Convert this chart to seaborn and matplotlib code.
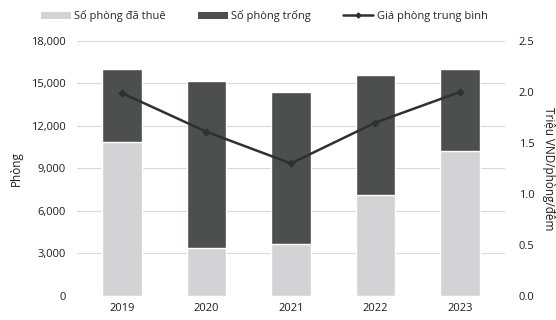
import matplotlib
matplotlib.use("Agg")
import matplotlib.pyplot as plt
from matplotlib.ticker import FuncFormatter
from matplotlib.lines import Line2D
from matplotlib.patches import Patch
import seaborn as sns
import pandas as pd

years = ["2019", "2020", "2021", "2022", "2023"]
occupied = [10900, 3400, 3700, 7100, 10200]
vacant = [5100, 11800, 10700, 8500, 5800]
avg_price = [1.99, 1.61, 1.30, 1.70, 2.00]

total = [o + v for o, v in zip(occupied, vacant)]
df = pd.DataFrame({"year": years, "occupied": occupied, "total": total, "price": avg_price})

sns.set_theme(style="white")
plt.rcParams["font.family"] = ["Open Sans", "DejaVu Sans"]

light = "#d3d3d5"
dark = "#4d4f4f"
line_c = "#303030"
txt = "#1e1e1e"

fig = plt.figure(figsize=(5.56, 3.2), dpi=100)
ax = fig.add_axes([0.1385, 0.075, 0.7695, 0.797])

sns.barplot(data=df, x="year", y="total", color=dark, width=0.47, saturation=1, ax=ax, zorder=2)
sns.barplot(data=df, x="year", y="occupied", color=light, width=0.47, saturation=1, ax=ax, zorder=3)

ax.set_ylim(0, 18000)
ax.set_yticks(range(0, 18001, 3000))
ax.yaxis.set_major_formatter(FuncFormatter(lambda v, p: f"{int(v):,}"))
ax.set_xlim(-0.53, 4.53)
ax.grid(axis="y", color="#d9d9d9", linewidth=0.8, zorder=0)
ax.set_axisbelow(True)
for s in ax.spines.values():
    s.set_visible(False)
ax.set_xlabel("")
ax.set_ylabel("Phòng", fontsize=8.5, color=txt, labelpad=6)
ax.tick_params(axis="y", length=0, labelsize=8, colors=txt, pad=8)
ax.tick_params(axis="x", length=0, labelsize=8, colors=txt, pad=5)

ax2 = ax.twinx()
sns.pointplot(data=df, x="year", y="price", color=line_c, markers="D", linestyles="-",
              markersize=3, linewidth=1.8, ax=ax2, zorder=5)
ax2.set_ylim(0, 2.5)
ax2.set_yticks([0, 0.5, 1.0, 1.5, 2.0, 2.5])
ax2.yaxis.set_major_formatter(FuncFormatter(lambda v, p: f"{v:.1f}"))
ax2.set_xlim(-0.53, 4.53)
for s in ax2.spines.values():
    s.set_visible(False)
ax2.grid(False)
ax2.set_xlabel("")
ax2.set_ylabel("Triệu VND/phòng/đêm", fontsize=8.5, color=txt, rotation=-90, labelpad=15)
ax2.tick_params(axis="both", length=0, labelsize=8, colors=txt, pad=10)

handles = [
    Patch(facecolor=light, edgecolor="none"),
    Patch(facecolor=dark, edgecolor="none"),
    Line2D([0], [0], color=line_c, linewidth=1.8, marker="D", markersize=2.5),
]
labels = ["Số phòng đã thuê", "Số phòng trống", "Giá phòng trung bình"]
fig.legend(handles, labels, loc="upper center", bbox_to_anchor=(0.475, 1.0), ncol=3, frameon=False,
           fontsize=8, handlelength=2.7, handleheight=0.6, handletextpad=0.3, columnspacing=2.9)

fig.savefig("out.png", dpi=100)
